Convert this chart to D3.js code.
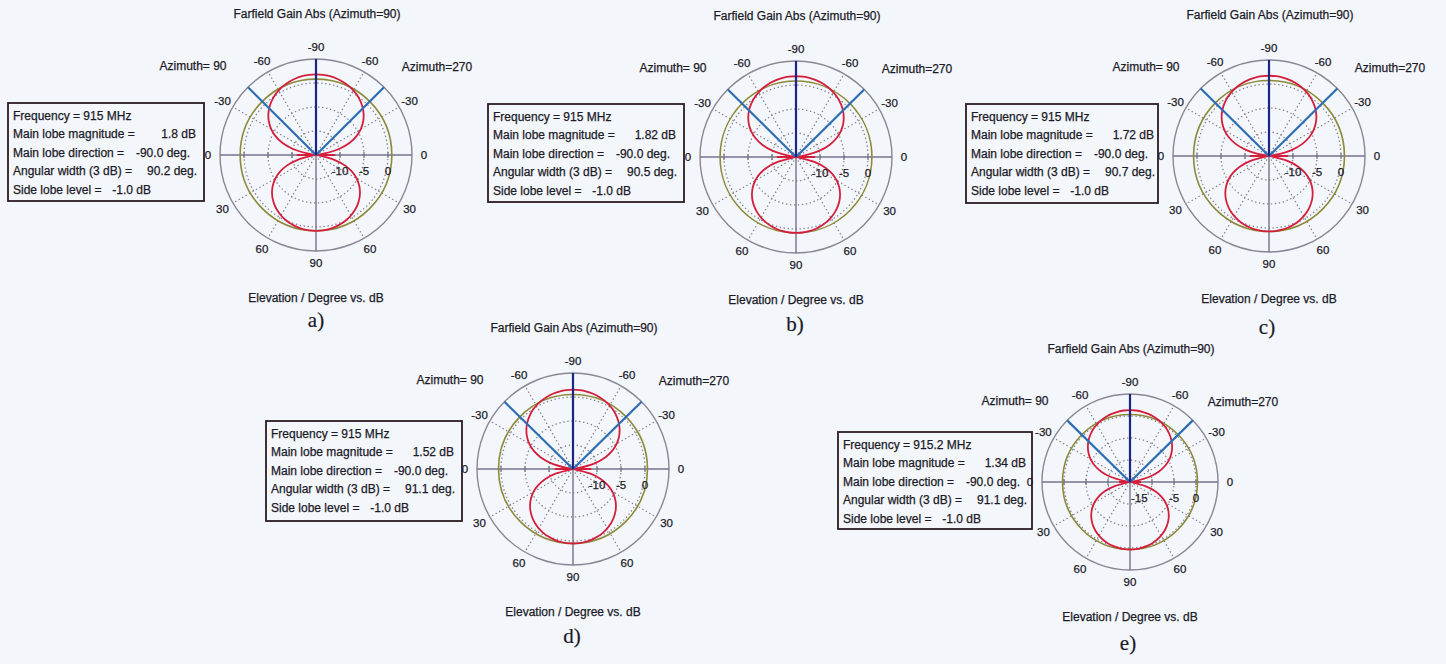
<!DOCTYPE html>
<html>
<head>
<meta charset="utf-8">
<script src="https://cdn.jsdelivr.net/npm/d3@7"></script>
<style>
  body { margin: 0; background: #f3f6fa; }
  svg { display: block; }
  text { font-family: "Liberation Sans", Arial, sans-serif; fill: #1c1a28; stroke: #1c1a28; stroke-width: 0.25px; }
  text.letter { stroke-width: 0.2px; }
</style>
</head>
<body>
<svg id="chart" width="1446" height="664"></svg>
<script>
// ---- Farfield cut results, one entry per simulated design ----
const panelLabels = ["a)", "b)", "c)", "d)", "e)"];
const frequencyMHz = [915, 915, 915, 915, 915.2];
const mainLobeMagnitude = [1.8, 1.82, 1.72, 1.52, 1.34];   // dB
const mainLobeDirection = [-90, -90, -90, -90, -90];        // deg
const angularWidth3dB = [90.2, 90.5, 90.7, 91.1, 91.1];     // deg
const sideLobeLevel = [-1.0, -1.0, -1.0, -1.0, -1.0];       // dB

// Elevation samples (deg), same on the Azimuth=90 and Azimuth=270 halves
const elevation = [-90, -85, -80, -75, -70, -65, -60, -55, -50, -45, -40, -35, -30, -25, -20, -15, -10, -5,
                   0, 5, 10, 15, 20, 25, 30, 35, 40, 45, 50, 55, 60, 65, 70, 75, 80, 85, 90];

// Gain (dB) along the elevation samples
const gainA = [1.80, 1.77, 1.67, 1.50, 1.26, 0.95, 0.55, 0.07, -0.52, -1.21, -2.04, -3.03, -4.22, -5.68, -7.52, -9.94, -13.41, -15.0,
               -11.0, -15.0, -14.41, -10.94, -8.52, -6.68, -5.22, -4.03, -3.04, -2.21, -1.52, -0.93, -0.45, -0.05, 0.26, 0.50, 0.67, 0.77, 0.80];
const gainB = [1.82, 1.79, 1.69, 1.52, 1.28, 0.97, 0.57, 0.09, -0.50, -1.19, -2.02, -3.01, -4.20, -5.66, -7.50, -9.92, -13.39, -15.0,
               -11.0, -15.0, -14.39, -10.92, -8.50, -6.66, -5.20, -4.01, -3.02, -2.19, -1.50, -0.91, -0.43, -0.03, 0.28, 0.52, 0.69, 0.79, 0.82];
const gainC = [1.72, 1.69, 1.59, 1.42, 1.18, 0.87, 0.47, -0.01, -0.60, -1.29, -2.12, -3.11, -4.30, -5.76, -7.60, -10.02, -13.49, -15.0,
               -11.0, -15.0, -14.49, -11.02, -8.60, -6.76, -5.30, -4.11, -3.12, -2.29, -1.60, -1.01, -0.53, -0.13, 0.18, 0.42, 0.59, 0.69, 0.72];
const gainD = [1.52, 1.49, 1.39, 1.22, 0.98, 0.67, 0.27, -0.21, -0.80, -1.49, -2.32, -3.31, -4.50, -5.96, -7.80, -10.22, -13.69, -15.0,
               -11.2, -15.0, -14.69, -11.22, -8.80, -6.96, -5.50, -4.31, -3.32, -2.49, -1.80, -1.21, -0.73, -0.33, -0.02, 0.22, 0.39, 0.49, 0.52];
const gainE = [1.34, 1.31, 1.21, 1.04, 0.80, 0.49, 0.09, -0.39, -0.98, -1.67, -2.50, -3.49, -4.68, -6.14, -7.98, -10.40, -13.87, -15.0,
               -12.5, -15.0, -14.87, -11.40, -8.98, -7.14, -5.68, -4.49, -3.50, -2.67, -1.98, -1.39, -0.91, -0.51, -0.20, 0.04, 0.21, 0.31, 0.34];
const gainSeries = [gainA, gainB, gainC, gainD, gainE];

// Axes
const dbDomain = [-15, 5];
const angleTicks = [-90, -60, -30, 0, 30, 60, 90];
const dottedSpokes = [-60, -30, 30, 60];
const gridRingsDb = [-10, -5, 0];
const ringLabelsStd = [-10, -5, 0];
const ringLabelsE = [-15, -5, 0];
const ringLabelSets = [ringLabelsStd, ringLabelsStd, ringLabelsStd, ringLabelsStd, ringLabelsE];

// Panel placement
const layout = [
  { cx: 316,  cy: 155, R: 96, box: [8, 103, 196, 98],   letter: [316, 327] },
  { cx: 796,  cy: 157, R: 96, box: [488, 104, 196, 98], letter: [795, 331] },
  { cx: 1269, cy: 156, R: 96, box: [966, 104, 192, 99], letter: [1267, 334] },
  { cx: 573,  cy: 469, R: 96, box: [266, 421, 196, 100], letter: [572, 643] },
  { cx: 1130, cy: 482, R: 88, box: [838, 432, 194, 97], letter: [1128, 650] }
];

const colors = {
  frame: "#8a8794", axis: "#76728a", grid: "#86848f",
  lobe: "#d41f3c", sll: "#8c8a3a", beam: "#2d6db2", dir: "#1b2582",
  box: "#2a1c22"
};

const svg = d3.select("#chart");
const rad = Math.PI / 180;

// Screen position for an elevation angle on either half (side: -1 = Azimuth 90, +1 = Azimuth 270)
function polar(side, elev, radius) {
  const a = side * (elev + 90) * rad;
  return [radius * Math.sin(a), -radius * Math.cos(a)];
}

panelLabels.forEach((label, i) => {
  const L = layout[i];
  const R = L.R;
  const r = d3.scaleLinear().domain(dbDomain).range([0, R]).clamp(true);
  const g = svg.append("g").attr("transform", `translate(${L.cx},${L.cy})`);

  // dotted dB rings
  g.selectAll("circle.ring").data(gridRingsDb).join("circle")
    .attr("class", "ring").attr("r", d => r(d))
    .attr("fill", "none").attr("stroke", colors.grid)
    .attr("stroke-width", 1.3).attr("stroke-dasharray", "1.4,2.6");

  // dotted angular spokes on both halves
  const spokes = [];
  [-1, 1].forEach(s => dottedSpokes.forEach(e => spokes.push({ s, e })));
  g.selectAll("line.spoke").data(spokes).join("line")
    .attr("class", "spoke")
    .attr("x1", 0).attr("y1", 0)
    .attr("x2", d => polar(d.s, d.e, R)[0]).attr("y2", d => polar(d.s, d.e, R)[1])
    .attr("stroke", colors.grid).attr("stroke-width", 1.3).attr("stroke-dasharray", "1.4,2.6");

  // outer frame and solid axes
  g.append("circle").attr("r", R).attr("fill", "none")
    .attr("stroke", colors.frame).attr("stroke-width", 1.4);
  g.append("line").attr("x1", -R).attr("x2", R).attr("y1", 0).attr("y2", 0)
    .attr("stroke", colors.axis).attr("stroke-width", 1.4);
  g.append("line").attr("x1", 0).attr("x2", 0).attr("y1", 0).attr("y2", R)
    .attr("stroke", colors.axis).attr("stroke-width", 1.4);

  // small ticks where the rings cross the horizontal axis
  const ticks = [];
  [-1, 1].forEach(s => gridRingsDb.forEach(d => ticks.push(s * r(d))));
  g.selectAll("line.rt").data(ticks).join("line")
    .attr("class", "rt").attr("x1", d => d).attr("x2", d => d)
    .attr("y1", -3).attr("y2", 3)
    .attr("stroke", colors.axis).attr("stroke-width", 1.2);

  // side lobe level reference circle
  g.append("circle").attr("r", r(mainLobeMagnitude[i] + sideLobeLevel[i]))
    .attr("fill", "none").attr("stroke", colors.sll).attr("stroke-width", 1.6);

  // radiation pattern: Azimuth=270 half (right) then Azimuth=90 half (left), closed
  const gains = gainSeries[i];
  const pts = [];
  elevation.forEach((e, k) => pts.push({ a: (e + 90) * rad, g: gains[k] }));
  for (let k = elevation.length - 2; k >= 1; k--) {
    pts.push({ a: Math.PI + (90 - elevation[k]) * rad, g: gains[k] });
  }
  const line = d3.lineRadial()
    .angle(d => d.a).radius(d => r(d.g))
    .curve(d3.curveCatmullRomClosed.alpha(0.5));
  g.append("path").attr("d", line(pts))
    .attr("fill", "none").attr("stroke", colors.lobe).attr("stroke-width", 1.8);

  // 3 dB beamwidth markers
  const half = angularWidth3dB[i] / 2;
  [-1, 1].forEach(s => {
    const p = polar(s, mainLobeDirection[i] + half, R);
    g.append("line").attr("x1", 0).attr("y1", 0).attr("x2", p[0]).attr("y2", p[1])
      .attr("stroke", colors.beam).attr("stroke-width", 2.2);
  });

  // main lobe direction marker
  const pd = polar(1, mainLobeDirection[i], R);
  g.append("line").attr("x1", 0).attr("y1", 0).attr("x2", pd[0]).attr("y2", pd[1])
    .attr("stroke", colors.dir).attr("stroke-width", 2.2);

  // angle labels
  const angLabels = [];
  angleTicks.forEach(e => {
    if (Math.abs(e) === 90) angLabels.push({ s: 1, e });
    else { angLabels.push({ s: -1, e }); angLabels.push({ s: 1, e }); }
  });
  g.selectAll("text.ang").data(angLabels).join("text")
    .attr("class", "ang")
    .attr("x", d => polar(d.s, d.e, R + 12)[0])
    .attr("y", d => polar(d.s, d.e, R + 12)[1])
    .attr("text-anchor", "middle").attr("dominant-baseline", "central")
    .attr("font-size", 11.5).text(d => String(d.e));

  // dB ring labels below the axis
  g.selectAll("text.db").data(ringLabelSets[i]).join("text")
    .attr("class", "db")
    .attr("x", d => r(d) === 0 ? 1 : r(d))
    .attr("y", 16)
    .attr("text-anchor", d => r(d) === 0 ? "start" : "middle")
    .attr("dominant-baseline", "central")
    .attr("font-size", 11.5).text(d => String(d));

  // titles around the plot
  g.append("text").attr("x", 1).attr("y", -(R + 45)).attr("text-anchor", "middle")
    .attr("dominant-baseline", "central").attr("font-size", 12)
    .text("Farfield Gain Abs (Azimuth=90)");
  g.append("text").attr("x", -(R + 27)).attr("y", -(R - 7)).attr("text-anchor", "middle")
    .attr("dominant-baseline", "central").attr("font-size", 12).text("Azimuth= 90");
  g.append("text").attr("x", R + 25).attr("y", -(R - 8)).attr("text-anchor", "middle")
    .attr("dominant-baseline", "central").attr("font-size", 12).text("Azimuth=270");
  g.append("text").attr("x", 0).attr("y", R + 47).attr("text-anchor", "middle")
    .attr("dominant-baseline", "central").attr("font-size", 12)
    .text("Elevation / Degree vs. dB");

  // sub-figure letter
  svg.append("text").attr("class", "letter").attr("x", L.letter[0]).attr("y", L.letter[1])
    .attr("text-anchor", "middle")
    .style("font-family", "'Liberation Serif', 'Times New Roman', serif")
    .attr("font-size", 21).text(label);

  // result summary box
  const [bx, by, bw, bh] = L.box;
  const b = svg.append("g").attr("transform", `translate(${bx},${by})`);
  b.append("rect").attr("width", bw).attr("height", bh)
    .attr("fill", "none").attr("stroke", colors.box).attr("stroke-width", 1.8);
  const rows = [
    { t: `Frequency = ${frequencyMHz[i]} MHz`, v: "", vx: 0 },
    { t: "Main lobe magnitude =", v: `${mainLobeMagnitude[i]} dB`, vx: 188 },
    { t: "Main lobe direction =", v: `${mainLobeDirection[i].toFixed(1)} deg.`, vx: 182 },
    { t: "Angular width (3 dB) =", v: `${angularWidth3dB[i].toFixed(1)} deg.`, vx: 189 },
    { t: "Side lobe level =", v: `${sideLobeLevel[i].toFixed(1)} dB`, vx: 143 }
  ];
  rows.forEach((row, k) => {
    const y = 16.5 + k * 18.6;
    b.append("text").attr("x", 5).attr("y", y).attr("font-size", 12).text(row.t);
    if (row.v) b.append("text").attr("x", row.vx).attr("y", y)
      .attr("text-anchor", "end").attr("font-size", 12).text(row.v);
  });
});
</script>
</body>
</html>
